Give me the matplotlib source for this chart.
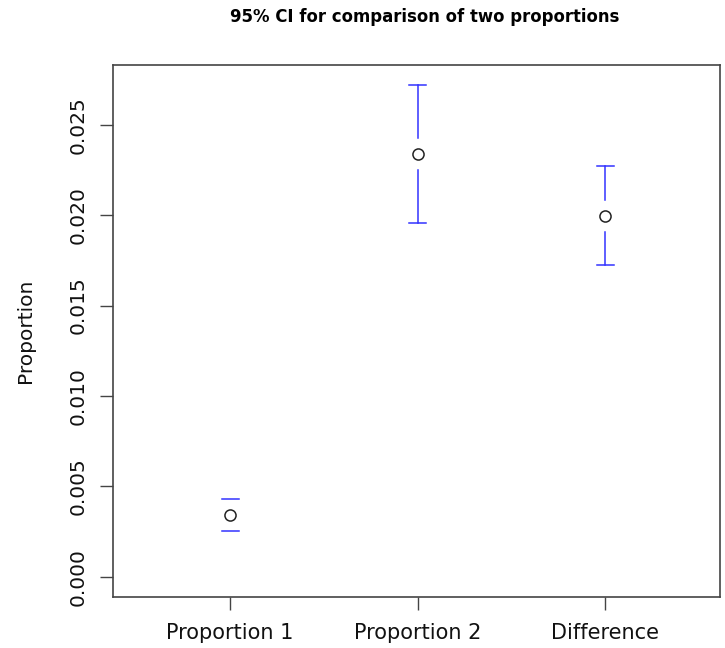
import matplotlib
matplotlib.use("Agg")
import matplotlib.pyplot as plt

categories = ["Proportion 1", "Proportion 2", "Difference"]
estimates = [0.00343, 0.02340, 0.01993]
lower = [0.00254, 0.01958, 0.01726]
upper = [0.00431, 0.02721, 0.02273]
yticks = [0.000, 0.005, 0.010, 0.015, 0.020, 0.025]

fig = plt.figure(figsize=(7.25, 6.48), dpi=100)
ax = fig.add_axes([0.156, 0.079, 0.837, 0.821])
ax.set_xlim(0.376, 3.613)
ax.set_ylim(-0.00111, 0.02832)

xs = list(range(1, len(categories) + 1))

# gap around the point, in data units (about 16 px)
fig.canvas.draw()
bbox = ax.get_window_extent()
y0, y1 = ax.get_ylim()
gap = 16 * (y1 - y0) / bbox.height
x0, x1 = ax.get_xlim()
capw = 8.5 * (x1 - x0) / bbox.width

for x, e, lo, hi in zip(xs, estimates, lower, upper):
    if hi - e > gap:
        ax.plot([x, x], [e + gap, hi], color="#3333ff", lw=1.1)
    if e - lo > gap:
        ax.plot([x, x], [lo, e - gap], color="#3333ff", lw=1.1)
    ax.plot([x - capw, x + capw], [hi, hi], color="#3333ff", lw=1.1)
    ax.plot([x - capw, x + capw], [lo, lo], color="#3333ff", lw=1.1)

ax.plot(xs, estimates, linestyle="none", marker="o", markersize=8,
        markerfacecolor="none", markeredgecolor="#222222", markeredgewidth=1.1)

ax.set_xticks(xs)
ax.set_xticklabels(categories, fontsize=15, color="#111111")
ax.set_yticks(yticks)
ax.set_yticklabels([f"{v:.3f}" for v in yticks], fontsize=14.5, rotation=90,
                   va="center", color="#111111")
ax.tick_params(axis="both", length=9.5, width=1, color="#444444", pad=9)
ax.set_ylabel("Proportion", fontsize=14.5, color="#111111", labelpad=24)
for s in ax.spines.values():
    s.set_color("#444444")
    s.set_linewidth(1.2)
fig.suptitle("95% CI for comparison of two proportions", fontsize=11.9,
             fontweight="bold", x=0.586, y=0.988)

fig.savefig("out.png", dpi=100)
